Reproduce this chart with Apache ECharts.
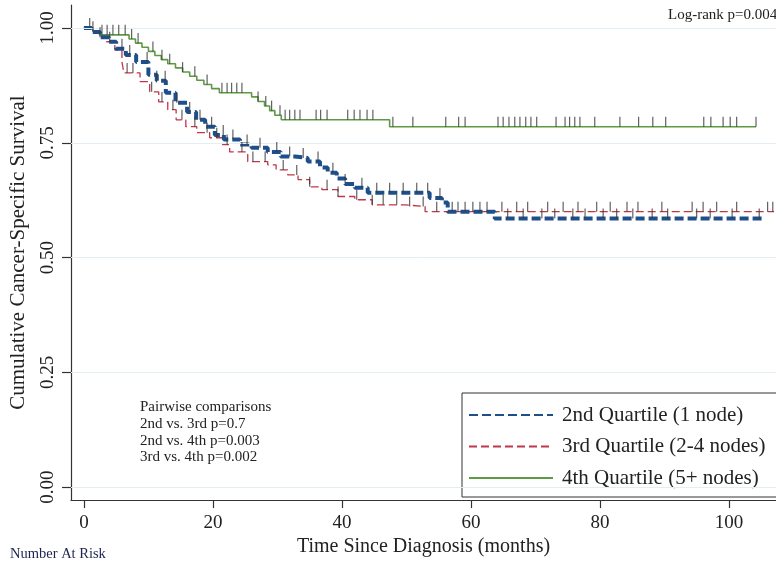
<!DOCTYPE html>
<html><head><meta charset="utf-8">
<script src="https://cdn.jsdelivr.net/npm/echarts@6/dist/echarts.min.js"></script>
<style>html,body{margin:0;padding:0;background:#fff}#c{width:776px;height:562px}</style>
</head><body><div id="c"></div>
<script>
const xTicks = [0, 20, 40, 60, 80, 100];
const yTicks = [0, 0.25, 0.5, 0.75, 1];
const seriesNames = ['2nd Quartile (1 node)', '3rd Quartile (2-4 nodes)', '4th Quartile (5+ nodes)'];

// 2nd quartile (blue)
const q2Times = [0, 1.2, 2.5, 3.9, 5.0, 6.5, 8.1, 10.0, 11.3, 12.7, 14.2, 16.0, 17.4, 18.8, 20.3, 21.7, 24.2, 26.0, 28.5, 30.5, 32.7, 34.7, 36.6, 37.8, 39.2, 40.5, 42.0, 44.0, 53.6, 55.5, 56.4, 63.7, 105.1];
const q2Surv  = [1.0, 0.991, 0.980, 0.970, 0.955, 0.941, 0.926, 0.898, 0.885, 0.859, 0.837, 0.817, 0.800, 0.785, 0.767, 0.757, 0.746, 0.739, 0.730, 0.720, 0.717, 0.709, 0.696, 0.685, 0.672, 0.660, 0.652, 0.641, 0.630, 0.620, 0.600, 0.585, 0.585];
const q2Censor = [2.5, 5.9, 7.1, 9.8, 11.3, 12.6, 14.4, 16.4, 18.0, 19.8, 21.6, 23.1, 25.3, 27.3, 29.9, 31.9, 34.0, 36.3, 38.6, 40.5, 43.1, 45.4, 47.4, 49.5, 51.6, 53.3, 55.2, 58.0, 60.3, 62.5, 65.7, 68.1, 71.0, 73.0, 75.8, 77.7, 80.5, 82.6, 85.1, 88.1, 90.5, 95.0, 97.1, 100.5, 104.7];

// 3rd quartile (red)
const q3Times = [0, 1.2, 2.3, 3.5, 4.8, 5.9, 6.2, 8.7, 10.2, 11.6, 13.0, 14.3, 15.8, 17.5, 19.5, 21.5, 22.6, 25.4, 28.5, 29.8, 31.6, 33.2, 35.0, 36.9, 39.4, 42.0, 44.7, 49.8, 52.9, 107.0];
const q3Surv  = [1.0, 0.993, 0.985, 0.970, 0.952, 0.926, 0.902, 0.883, 0.861, 0.839, 0.822, 0.800, 0.785, 0.772, 0.761, 0.746, 0.730, 0.709, 0.702, 0.691, 0.680, 0.670, 0.654, 0.648, 0.633, 0.626, 0.615, 0.611, 0.600, 0.600];
const q3Censor = [0.9, 4.0, 6.7, 7.6, 10.5, 12.1, 13.8, 15.2, 17.2, 19.1, 20.6, 22.2, 24.5, 26.2, 28.1, 30.9, 33.0, 35.0, 37.7, 39.4, 42.3, 44.7, 46.4, 48.5, 50.5, 52.6, 54.7, 57.1, 59.1, 61.4, 64.8, 67.1, 68.8, 71.9, 74.3, 76.6, 79.5, 81.6, 84.2, 85.9, 89.6, 94.3, 96.0, 98.1, 101.2, 106.0, 106.8];

// 4th quartile (green)
const q4Times = [0, 1.4, 2.4, 7, 8, 9, 10, 11, 12, 13, 14.2, 15.3, 16.4, 17.5, 18.6, 19.8, 21, 26, 27, 28, 28.8, 29.6, 30.6, 47.4, 104.2];
const q4Surv  = [1.0, 0.993, 0.985, 0.976, 0.967, 0.958, 0.949, 0.940, 0.931, 0.922, 0.913, 0.904, 0.895, 0.886, 0.877, 0.868, 0.859, 0.850, 0.840, 0.830, 0.820, 0.810, 0.800, 0.785, 0.785];
const q4Censor = [1.4, 2.8, 3.6, 4.5, 5.4, 6.4, 7.4, 8.4, 10.7, 12.1, 13.3, 15.3, 17.2, 19.1, 21.4, 22.2, 22.9, 23.7, 24.5, 27.0, 28.2, 29.1, 30.4, 31.2, 31.9, 32.7, 33.5, 36.0, 36.7, 37.7, 40.9, 41.9, 42.8, 43.9, 44.8, 47.9, 51.0, 56.1, 58.1, 59.1, 64.2, 65.0, 65.9, 66.8, 67.6, 68.5, 69.3, 70.2, 73.2, 74.6, 75.3, 76.1, 76.9, 79.2, 83.1, 86.0, 88.2, 90.2, 96.1, 97.2, 99.1, 100.2, 101.2, 104.2];

const FONT = '"Liberation Serif", "DejaVu Serif", serif';
const colors = ['#1f4f8a', '#c0364a', '#5e9a43'];

function stepVal(times, surv, t) {
  let v = surv[0];
  for (let i = 0; i < times.length; i++) { if (times[i] <= t) v = surv[i]; else break; }
  return v;
}
function pairs(times, surv) { return times.map((t, i) => [t, surv[i]]); }
function censorPts(times, surv, cens) { return cens.map(t => [t, stepVal(times, surv, t)]); }

const censorStyle = {
  type: 'scatter', symbol: 'rect', symbolSize: [1.2, 10], symbolOffset: [0, -5],
  itemStyle: { color: '#3a3a3a' }, silent: true, z: 5
};

const chart = echarts.init(document.getElementById('c'), null, { renderer: 'canvas' });
chart.setOption({
  animation: false,
  backgroundColor: '#fff',
  grid: { left: 71, right: 0, top: 5, bottom: 61, containLabel: false },
  xAxis: {
    type: 'value', min: -2, max: 107.3,
    axisLine: { show: true, onZero: false, lineStyle: { color: '#333', width: 1.2 } },
    axisTick: { show: true, length: 8, customValues: xTicks, lineStyle: { color: '#333', width: 1.2 } },
    axisLabel: { customValues: xTicks, fontFamily: FONT, fontSize: 19, color: '#222', margin: 13 },
    splitLine: { show: false },
    name: 'Time Since Diagnosis (months)', nameLocation: 'middle', nameGap: 36,
    nameTextStyle: { fontFamily: FONT, fontSize: 20, color: '#222' }
  },
  yAxis: {
    type: 'value', min: -0.028, max: 1.05,
    axisLine: { show: true, onZero: false, lineStyle: { color: '#333', width: 1.2 } },
    axisTick: { show: true, length: 9, customValues: yTicks, lineStyle: { color: '#333', width: 1.2 } },
    axisLabel: { customValues: yTicks, formatter: v => v.toFixed(2), rotate: 90, fontFamily: FONT, fontSize: 19, color: '#222', margin: 13 },
    splitLine: { show: false },
    name: 'Cumulative Cancer-Specific Survival', nameLocation: 'middle', nameGap: 42,
    nameTextStyle: { fontFamily: FONT, fontSize: 21, color: '#222' }
  },
  legend: {
    data: seriesNames, orient: 'vertical', left: 462, top: 393,
    padding: [11.5, 60, 8.5, 6], itemWidth: 84, itemHeight: 20, itemGap: 10.5,
    borderColor: '#333', borderWidth: 1, backgroundColor: '#fff',
    itemStyle: { opacity: 0 },
    textStyle: { fontFamily: FONT, fontSize: 21, lineHeight: 20, color: '#222', padding: [0, 0, 0, 4] }
  },
  graphic: [
    { type: 'text', left: 668, top: 8, style: { text: 'Log-rank p=0.004', font: '15px ' + FONT, fill: '#222' } },
    { type: 'text', left: 140, top: 399, style: { text: 'Pairwise comparisons\n2nd vs. 3rd p=0.7\n2nd vs. 4th p=0.003\n3rd vs. 4th p=0.002', font: '15px ' + FONT, fill: '#222', lineHeight: 16.7 } },
    { type: 'text', left: 10, top: 547, style: { text: 'Number At Risk', font: '14.5px ' + FONT, fill: '#1c2350' } }
  ],
  series: [
    { type: 'line', data: [], z: 1, silent: true,
      markLine: { silent: true, symbol: 'none', label: { show: false },
        lineStyle: { color: '#e2eef3', width: 1, type: 'solid' },
        data: yTicks.map(v => ({ yAxis: v })) } },
    { name: seriesNames[1], type: 'line', step: 'end', symbol: 'none', showSymbol: false, z: 3,
      data: pairs(q3Times, q3Surv), color: colors[1],
      lineStyle: { color: colors[1], width: 1.3, type: [8, 4] } },
    { name: seriesNames[0], type: 'line', step: 'end', symbol: 'none', showSymbol: false, z: 4,
      data: pairs(q2Times, q2Surv), color: colors[0],
      lineStyle: { color: colors[0], width: 4, type: [9, 4] } },
    { name: seriesNames[2], type: 'line', step: 'end', symbol: 'none', showSymbol: false, z: 3,
      data: pairs(q4Times, q4Surv), color: colors[2],
      lineStyle: { color: colors[2], width: 1.6, type: 'solid' } },
    Object.assign({ data: censorPts(q3Times, q3Surv, q3Censor) }, censorStyle),
    Object.assign({ data: censorPts(q2Times, q2Surv, q2Censor) }, censorStyle),
    Object.assign({ data: censorPts(q4Times, q4Surv, q4Censor) }, censorStyle)
  ]
});
</script></body></html>
